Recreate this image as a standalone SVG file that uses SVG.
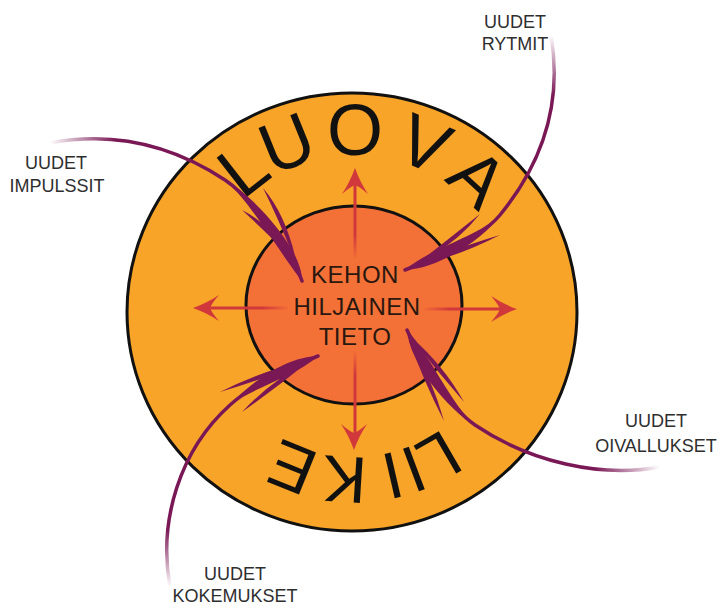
<svg xmlns="http://www.w3.org/2000/svg" width="722" height="607" viewBox="0 0 722 607">
<style>
.lbl{font-family:"Liberation Sans",Arial,sans-serif;font-size:18px;fill:#2e2e2e;text-anchor:middle}
.ctr{font-family:"Liberation Sans",Arial,sans-serif;font-size:24px;fill:#2a1810;text-anchor:middle;letter-spacing:0.5px}
.big{font-family:"Liberation Sans",Arial,sans-serif;fill:#111}
.pu{fill:#7a1856}
.pl{fill:none;stroke-width:3.5;stroke-linecap:round}
.rl{fill:none;stroke-width:3}
</style>
<defs>
<linearGradient id="g1" gradientUnits="userSpaceOnUse" x1="50" y1="143" x2="115" y2="136"><stop offset="0" stop-color="#7a1856" stop-opacity="0"/><stop offset="1" stop-color="#7a1856"/></linearGradient>
<linearGradient id="g2" gradientUnits="userSpaceOnUse" x1="551" y1="35" x2="556" y2="95"><stop offset="0" stop-color="#7a1856" stop-opacity="0"/><stop offset="1" stop-color="#7a1856"/></linearGradient>
<linearGradient id="g3" gradientUnits="userSpaceOnUse" x1="660" y1="467" x2="595" y2="474"><stop offset="0" stop-color="#7a1856" stop-opacity="0"/><stop offset="1" stop-color="#7a1856"/></linearGradient>
<linearGradient id="g4" gradientUnits="userSpaceOnUse" x1="170" y1="587" x2="163" y2="530"><stop offset="0" stop-color="#7a1856" stop-opacity="0"/><stop offset="1" stop-color="#7a1856"/></linearGradient>
<linearGradient id="ru" gradientUnits="userSpaceOnUse" x1="355" y1="260" x2="355" y2="235"><stop offset="0" stop-color="#d0383b" stop-opacity="0"/><stop offset="1" stop-color="#d0383b"/></linearGradient>
<linearGradient id="rd" gradientUnits="userSpaceOnUse" x1="355" y1="350" x2="355" y2="375"><stop offset="0" stop-color="#d0383b" stop-opacity="0"/><stop offset="1" stop-color="#d0383b"/></linearGradient>
<linearGradient id="rlg" gradientUnits="userSpaceOnUse" x1="290" y1="308" x2="262" y2="308"><stop offset="0" stop-color="#d0383b" stop-opacity="0"/><stop offset="1" stop-color="#d0383b"/></linearGradient>
<linearGradient id="rrg" gradientUnits="userSpaceOnUse" x1="422" y1="309" x2="450" y2="309"><stop offset="0" stop-color="#d0383b" stop-opacity="0"/><stop offset="1" stop-color="#d0383b"/></linearGradient>
<path id="rh" d="M0,0 Q-5,14 -13,26 Q-5,19 0,17 Q5,19 13,26 Q5,14 0,0 Z" fill="#d0383b"/>
</defs>

<g id="ring">
<ellipse cx="352" cy="312" rx="225" ry="219" fill="#f8a428" stroke="#111" stroke-width="3"/>
<text class="big" font-size="72" x="242.5 272.1 327 392.9 443.4" y="200.6 176.1 155 157.7 180" rotate="-38 -22 0 22.5 42.5">LUOVA</text>
<text class="big" font-size="66" x="443.4 414.4 396.5 368.1 321.1" y="428.4 444.6 451.2 458 454.6" rotate="150 159.5 167 183.5 202">LIIKE</text>
</g>

<g id="core">
<ellipse cx="354" cy="305" rx="108" ry="99" fill="#f37136" stroke="#111" stroke-width="3"/>
</g>

<g id="radiate">
<line class="rl" stroke="url(#ru)" x1="355" y1="258" x2="355" y2="180"/>
<line class="rl" stroke="url(#rd)" x1="355" y1="352" x2="355" y2="440"/>
<line class="rl" stroke="url(#rlg)" x1="288" y1="308" x2="203" y2="308"/>
<line class="rl" stroke="url(#rrg)" x1="424" y1="309" x2="507" y2="309"/>
<use href="#rh" transform="translate(355,168)"/>
<use href="#rh" transform="translate(354,450) rotate(180)"/>
<use href="#rh" transform="translate(193,308) rotate(-90)"/>
<use href="#rh" transform="translate(517,309) rotate(90)"/>
</g>

<g id="core-text">
<text class="ctr" x="355" y="283">KEHON</text>
<text class="ctr" x="357" y="315">HILJAINEN</text>
<text class="ctr" x="355" y="345">TIETO</text>
</g>

<g id="label-impulssit">
<text class="lbl" x="56" y="169">UUDET</text>
<text class="lbl" x="57" y="192">IMPULSSIT</text>
</g>
<g id="label-rytmit">
<text class="lbl" x="515" y="28">UUDET</text>
<text class="lbl" x="515" y="50">RYTMIT</text>
</g>
<g id="label-oivallukset">
<text class="lbl" x="656" y="427">UUDET</text>
<text class="lbl" x="656" y="452">OIVALLUKSET</text>
</g>
<g id="label-kokemukset">
<text class="lbl" x="235" y="580">UUDET</text>
<text class="lbl" x="235" y="602">KOKEMUKSET</text>
</g>

<g id="connectors">
<path class="pl" stroke="url(#g1)" d="M50,143 C130,128 190,157 225,180 C250,196.5 292.4,252.5 302,281"/>
<path class="pu" d="M225,180 C248.35,199 281.95,256 302,281 C302.85,249 251.65,194 225,180 Z"/>
<path class="pu" d="M263,188 Q278.9,219.8 297,265 Q287.1,216.2 263,188 Z"/>
<path class="pu" d="M242,210 Q264.9,231.2 292,258 Q271.1,224.8 242,210 Z"/>

<path class="pl" stroke="url(#g2)" d="M551,35 C562,100 545,160 500,215 C481.1,238.1 432.9,258.9 405,270"/>
<path class="pu" d="M500,215 C478.8,236.2 428.8,248.7 405,270 C437,269.1 483.4,240 500,215 Z"/>
<path class="pu" d="M500,235 Q453.5,248.8 415,266 Q456.5,257.2 500,235 Z"/>
<path class="pu" d="M480,214 Q449.2,238.5 418,263 Q454.8,245.5 480,214 Z"/>

<path class="pl" stroke="url(#g3)" d="M660,467 C600,478 530,462 475,425 C450.1,408.2 419,357.6 407,330"/>
<path class="pu" d="M475,425 C451.8,405.7 429.1,353.2 407,330 C408.9,362 448.4,410.7 475,425 Z"/>
<path class="pu" d="M464,402 Q443.5,365.2 411,337 Q436.5,370.8 464,402 Z"/>
<path class="pu" d="M444,421 Q432.1,378.2 409,340 Q423.9,381.8 444,421 Z"/>

<path class="pl" stroke="url(#g4)" d="M170,587 C158,520 180,450 230,405 C252.2,384.9 290.1,367.1 318,356"/>
<path class="pu" d="M230,405 C254.2,387.1 294.2,377.3 318,356 C286,356.9 250.2,382.7 230,405 Z"/>
<path class="pu" d="M220,392 Q266.5,378.2 310,360 Q263.5,369.8 220,392 Z"/>
<path class="pu" d="M242,412 Q276.7,387.6 308,362 Q271.3,380.4 242,412 Z"/>
</g>
</svg>
